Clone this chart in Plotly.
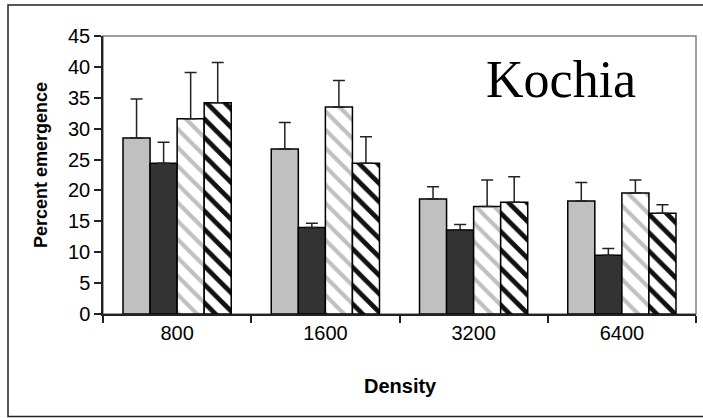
import plotly.graph_objects as go

categories = ["800", "1600", "3200", "6400"]
series_names = ["Gray", "Black", "Light hatch", "Dark hatch"]
gray_vals = [28.5, 26.7, 18.6, 18.3]
gray_err = [6.3, 4.3, 2.0, 3.0]
black_vals = [24.4, 14.0, 13.6, 9.5]
black_err = [3.4, 0.7, 0.9, 1.1]
light_vals = [31.6, 33.5, 17.4, 19.6]
light_err = [7.5, 4.3, 4.3, 2.1]
dark_vals = [34.2, 24.4, 18.1, 16.3]
dark_err = [6.5, 4.3, 4.1, 1.4]
y_ticks = [0, 5, 10, 15, 20, 25, 30, 35, 40, 45]

W, H = 703, 418
L, R, T, B = 103, 7, 36, 104
pw, ph = W - L - R, H - T - B

def px_x(x):
    return (x - L) / pw

def px_y(y):
    return 1 - (y - T) / ph

fig = go.Figure()

styles = [
    dict(color="#C0C0C0"),
    dict(color="#333333"),
    dict(color="white", pattern=dict(shape="\\", fgcolor="#C0C0C0", bgcolor="white", size=13, solidity=0.32, fgopacity=1)),
    dict(color="white", pattern=dict(shape="\\", fgcolor="#111111", bgcolor="white", size=13, solidity=0.36, fgopacity=1)),
]
vals = [gray_vals, black_vals, light_vals, dark_vals]
errs = [gray_err, black_err, light_err, dark_err]

for name, v, e, st in zip(series_names, vals, errs, styles):
    marker = dict(line=dict(color="black", width=1.5), **st)
    fig.add_trace(go.Bar(
        x=categories, y=v, name=name, marker=marker,
        error_y=dict(type="data", symmetric=False, array=e, arrayminus=[0] * len(e),
                     color="#222222", thickness=1.5, width=6),
    ))

fig.update_layout(
    width=W, height=H,
    margin=dict(l=L, r=R, t=T, b=B),
    paper_bgcolor="white", plot_bgcolor="white",
    barmode="group", bargap=0.27, bargroupgap=0,
    showlegend=False,
    font=dict(family="Liberation Sans, Arial", color="black", size=20),
    xaxis=dict(
        type="category", tickson="boundaries", ticks="outside", ticklen=7,
        tickcolor="#222222", tickwidth=1.5, showline=True, linecolor="#222222", linewidth=1.5,
        showgrid=False, tickfont=dict(size=20, family="Liberation Sans, Arial"),
    ),
    yaxis=dict(
        range=[0, 45], tickvals=y_ticks, ticks="outside", ticklen=7,
        tickcolor="#222222", tickwidth=1.5, showline=True, linecolor="#222222", linewidth=1.5,
        showgrid=False, zeroline=False, tickfont=dict(size=20, family="Liberation Sans, Arial"),
    ),
    shapes=[
        dict(type="rect", xref="paper", yref="paper", x0=0, x1=1, y0=0, y1=1,
             line=dict(color="#808080", width=1.5), layer="below"),
        dict(type="rect", xref="paper", yref="paper",
             x0=px_x(8), x1=px_x(715), y0=px_y(416.5), y1=px_y(5),
             line=dict(color="#222222", width=1.5), layer="below"),
    ],
    annotations=[
        dict(text="Kochia", xref="paper", yref="paper", x=px_x(561), y=px_y(79),
             xanchor="center", yanchor="middle", showarrow=False,
             font=dict(family="Liberation Serif, Times New Roman", size=52, color="black")),
        dict(text="<b>Percent emergence</b>", xref="paper", yref="paper", x=px_x(41), y=px_y(165),
             xanchor="center", yanchor="middle", showarrow=False, textangle=-90,
             font=dict(family="Liberation Sans, Arial", size=18, color="black")),
        dict(text="<b>Density</b>", xref="paper", yref="paper", x=px_x(400), y=px_y(386),
             xanchor="center", yanchor="middle", showarrow=False,
             font=dict(family="Liberation Sans, Arial", size=20, color="black")),
    ],
)

fig.write_html("out.html")
